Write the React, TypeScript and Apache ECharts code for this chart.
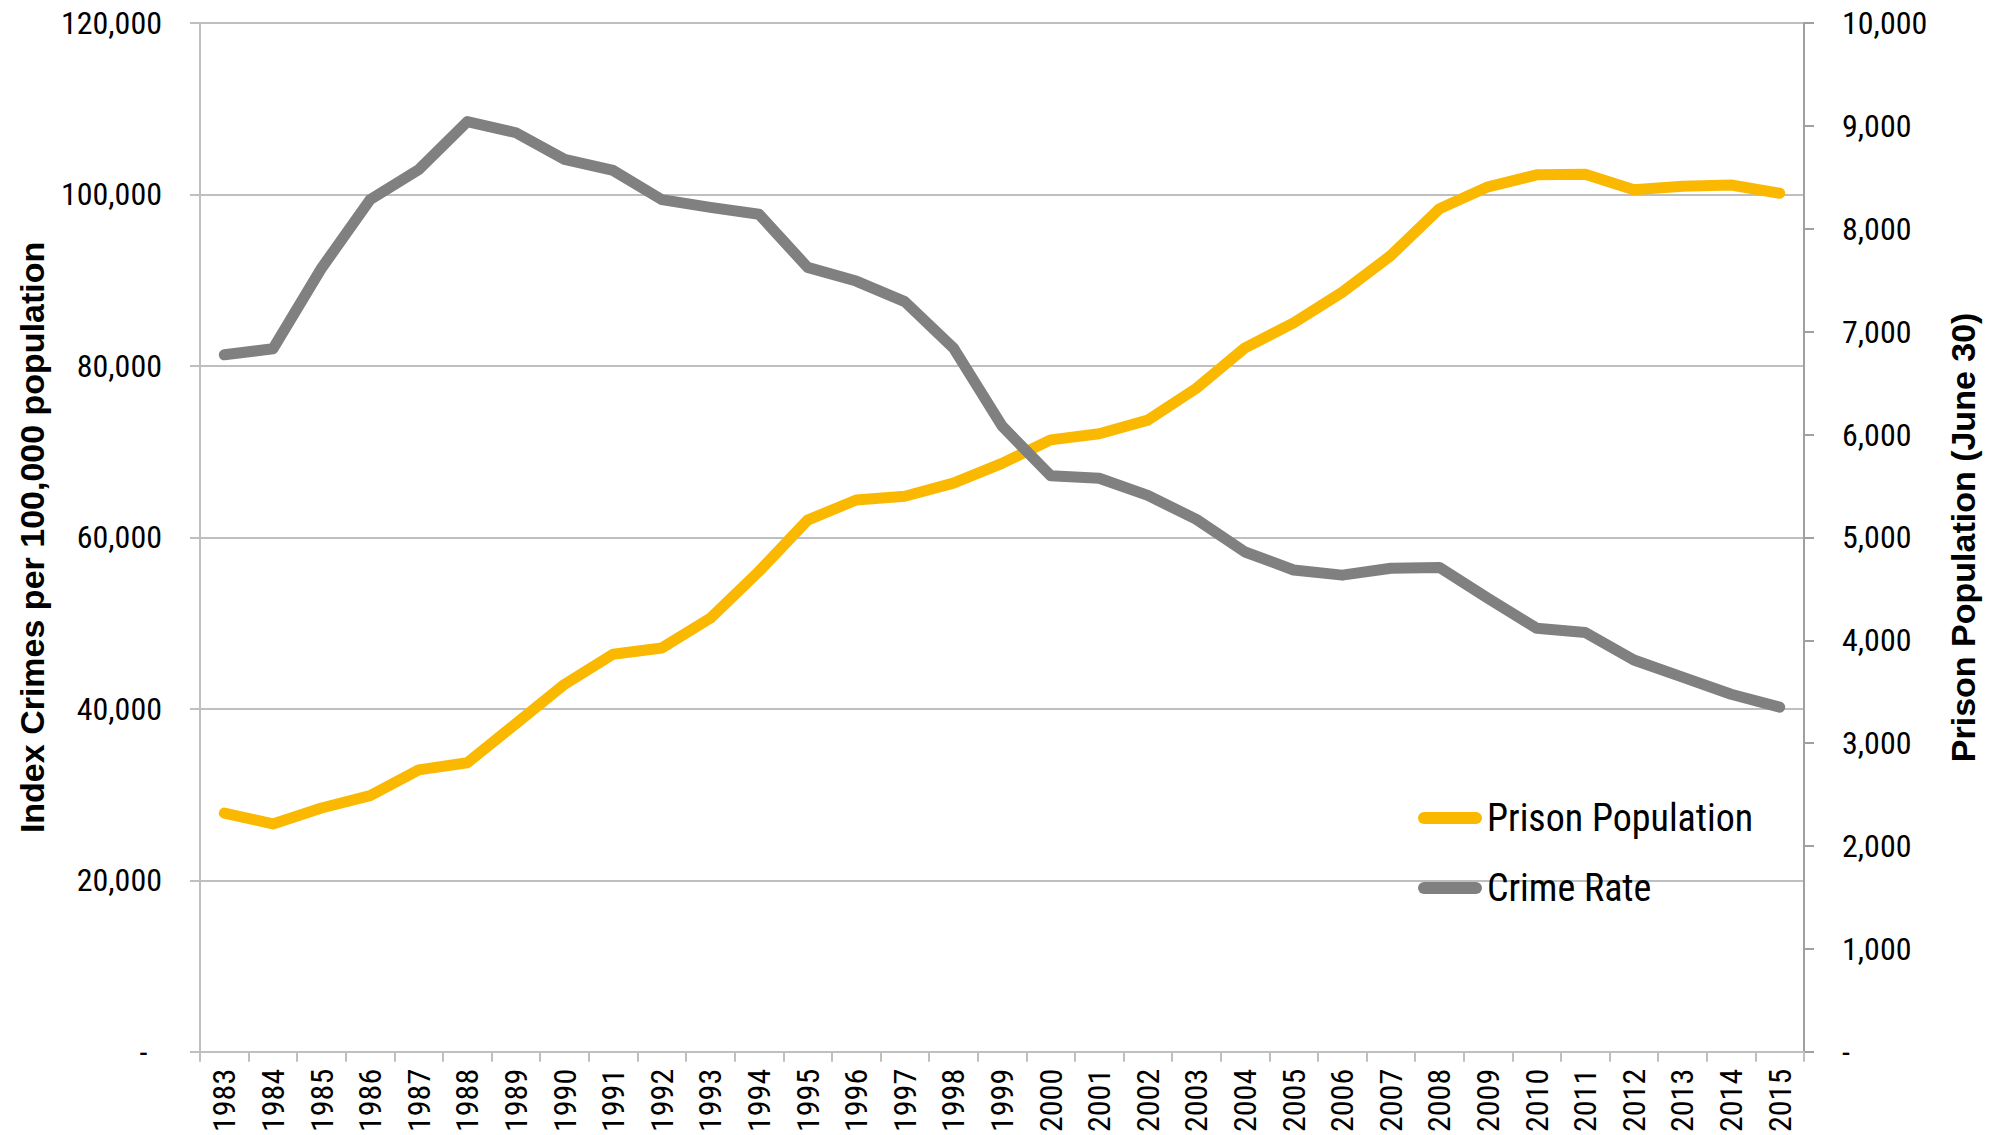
import React, { useEffect, useRef } from "react";
import * as echarts from "echarts";

const years = [
  "1983", "1984", "1985", "1986", "1987", "1988", "1989", "1990", "1991", "1992", "1993",
  "1994", "1995", "1996", "1997", "1998", "1999", "2000", "2001", "2002", "2003", "2004",
  "2005", "2006", "2007", "2008", "2009", "2010", "2011", "2012", "2013", "2014", "2015",
];

const crimeRate = [
  81300, 82000, 91400, 99400, 102900, 108500, 107200, 104100, 102800, 99400, 98500,
  97700, 91500, 89900, 87500, 82100, 73000, 67200, 66900, 64900, 62100, 58300,
  56200, 55600, 56400, 56500, 52900, 49400, 48900, 45700, 43700, 41700, 40200,
];

const prisonPopulation = [
  2320, 2215, 2370, 2490, 2740, 2810, 3190, 3572, 3865, 3925, 4215,
  4670, 5168, 5364, 5400, 5528, 5720, 5948, 6007, 6140, 6450, 6843,
  7085, 7383, 7740, 8195, 8408, 8524, 8530, 8380, 8414, 8425, 8345,
];

const leftAxisTitle = "Index Crimes per 100,000 population";
const rightAxisTitle = "Prison Population (June 30)";

const NARROW = "'Roboto Condensed', 'DejaVu Sans Condensed', sans-serif";
const BOLD = "'Liberation Sans', Arial, sans-serif";

function commas(v: number): string {
  const s = String(Math.round(v));
  return s.replace(/\B(?=(\d{3})+(?!\d))/g, ",");
}

export default function App() {
  const ref = useRef<HTMLDivElement>(null);

  useEffect(() => {
    if (!ref.current) return;
    const chart = echarts.init(ref.current, undefined, { renderer: "svg" });
    const pill = "path://M6,0 L58,0 A6,6 0 0 1 58,12 L6,12 A6,6 0 0 1 6,0 Z";
    chart.setOption({
      animation: false,
      backgroundColor: "#ffffff",
      grid: { left: 200, right: 199, top: 23, bottom: 81, containLabel: false },
      legend: {
        orient: "vertical",
        left: 1413,
        top: 794,
        itemWidth: 64,
        itemHeight: 12,
        itemGap: 32,
        textStyle: { fontFamily: NARROW, fontSize: 38, color: "#000" },
        data: [
          { name: "Prison Population", icon: pill },
          { name: "Crime Rate", icon: pill },
        ],
      },
      xAxis: {
        type: "category",
        data: years,
        boundaryGap: true,
        axisLine: { show: true, lineStyle: { color: "#bfbfbf", width: 2 } },
        axisTick: { show: true, length: 10, interval: 0, lineStyle: { color: "#bfbfbf", width: 2 } },
        axisLabel: {
          interval: 0,
          rotate: 90,
          margin: 17,
          fontFamily: NARROW,
          fontSize: 32,
          color: "#000",
        },
        splitLine: { show: false },
      },
      yAxis: [
        {
          type: "value",
          min: 0,
          max: 120000,
          interval: 20000,
          position: "left",
          name: leftAxisTitle,
          nameLocation: "middle",
          nameGap: 151,
          nameRotate: 90,
          nameTextStyle: { fontFamily: BOLD, fontWeight: "bold", fontSize: 34, color: "#000" },
          axisLine: { show: true, lineStyle: { color: "#bfbfbf", width: 2 } },
          axisTick: { show: true, length: 10, lineStyle: { color: "#bfbfbf", width: 2 } },
          splitLine: { show: true, lineStyle: { color: "#bfbfbf", width: 2 } },
          axisLabel: {
            margin: 38,
            fontFamily: NARROW,
            fontSize: 32,
            color: "#000",
            formatter: (v: number) => (v === 0 ? "-\u00a0\u00a0" : commas(v)),
          },
        },
        {
          type: "value",
          min: 0,
          max: 10000,
          interval: 1000,
          position: "right",
          name: rightAxisTitle,
          nameLocation: "middle",
          nameGap: 142,
          nameRotate: 90,
          nameTextStyle: { fontFamily: BOLD, fontWeight: "bold", fontSize: 34, color: "#000" },
          axisLine: { show: true, lineStyle: { color: "#a0a0a0", width: 2 } },
          axisTick: { show: true, length: 10, lineStyle: { color: "#a0a0a0", width: 2 } },
          splitLine: { show: false },
          axisLabel: {
            margin: 38,
            fontFamily: NARROW,
            fontSize: 32,
            color: "#000",
            formatter: (v: number) => (v === 0 ? "-" : commas(v)),
          },
        },
      ],
      series: [
        {
          name: "Prison Population",
          type: "line",
          yAxisIndex: 1,
          data: prisonPopulation,
          showSymbol: false,
          symbol: "none",
          itemStyle: { color: "#fab900" },
          lineStyle: { color: "#fab900", width: 11, cap: "round", join: "round" },
        },
        {
          name: "Crime Rate",
          type: "line",
          yAxisIndex: 0,
          data: crimeRate,
          showSymbol: false,
          symbol: "none",
          itemStyle: { color: "#808080" },
          lineStyle: { color: "#808080", width: 11, cap: "round", join: "round" },
        },
      ],
    });
    return () => chart.dispose();
  }, []);

  return (
    <div
      ref={ref}
      style={{ position: "absolute", left: 0, top: 0, width: 2003, height: 1135, background: "#fff" }}
    />
  );
}
